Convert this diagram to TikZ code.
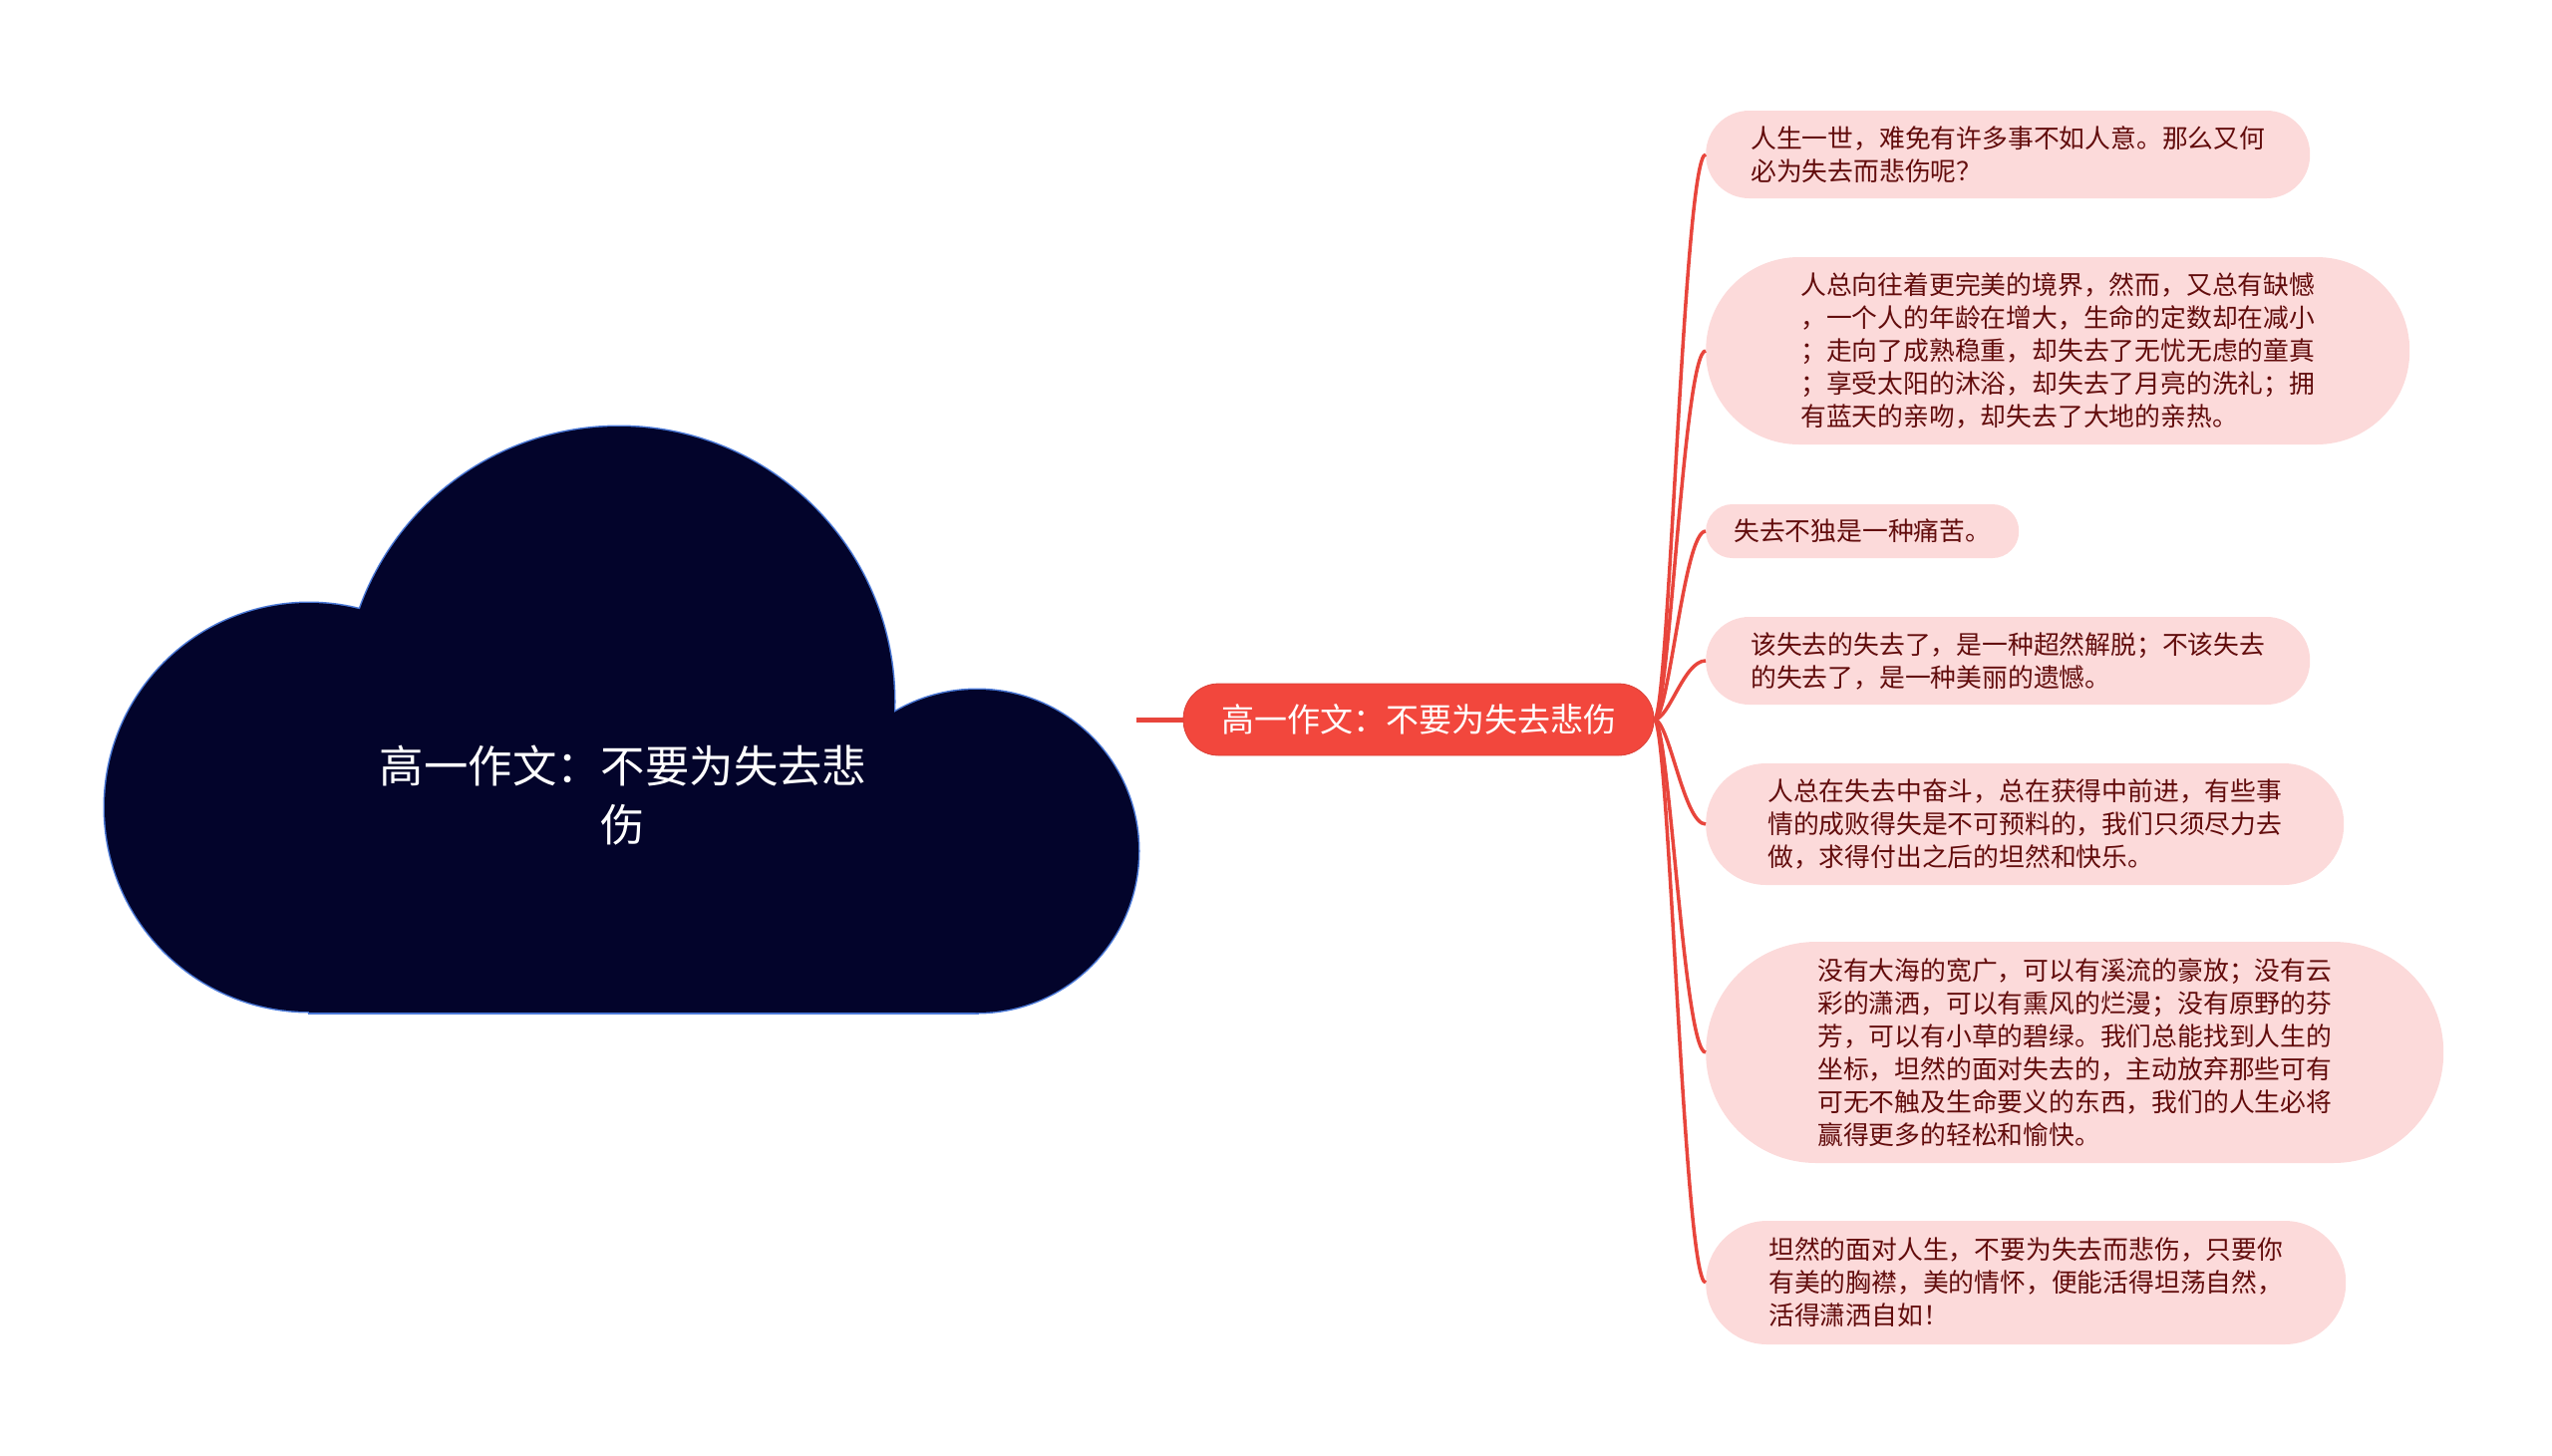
\documentclass[tikz,border=0pt]{standalone}
\usepackage{fontspec}
\setmainfont{Noto Sans CJK SC}
\definecolor{cloudfill}{HTML}{03042B}
\definecolor{cloudedge}{HTML}{4A78D6}
\definecolor{topicred}{HTML}{F2473D}
\definecolor{linered}{HTML}{E8453C}
\definecolor{leafpink}{HTML}{FCDADA}
\definecolor{leaftext}{HTML}{620C0C}

\begin{document}
\begin{tikzpicture}[x=1pt,y=-1pt,
  leaf/.style={rectangle,fill=leafpink,text=leaftext,inner xsep=#1+1pt,inner ysep=4pt,
    minimum height=2*#1,rounded corners=#1-0.5pt,align=left,anchor=west,
    font=\fontsize{25.8}{33}\selectfont},
  topic/.style={rectangle,fill=topicred,draw=topicred!90!black,line width=0.8pt,
    text=white,inner xsep=38pt,minimum height=72pt,rounded corners=35.5pt,
    font=\fontsize{33}{40}\selectfont},
  branch/.style={draw=linered,line width=3.5pt},
  trunk/.style={draw=linered,line width=5pt}]
  \useasboundingbox (0,0) rectangle (2560,1460);
  % cloud behind the root title (outline first, then fill)
  \foreach \cx/\cy/\r in {310/810/205,621/704/276,980/854/162}
    \draw[cloudedge,line width=3pt] (\cx,\cy) circle (\r);
  \draw[cloudedge,line width=3pt] (310,810) rectangle (980,1016);
  \foreach \cx/\cy/\r in {310/810/205,621/704/276,980/854/162}
    \fill[cloudfill] (\cx,\cy) circle (\r);
  \fill[cloudfill] (310,810) rectangle (980,1016);
  \node[text=white,align=center,font=\fontsize{44.4}{59}\selectfont] (root) at (625,798)
    {高一作文：不要为失去悲\\伤};
  \coordinate (cloud) at (1140,722);
  % main topic
  \node[topic] (topic) at (1423,722) {高一作文：不要为失去悲伤};
  \draw[trunk] (cloud) -- (topic.west);
  % leaves
  \node[leaf=44pt] (n1) at (1711,155)
    {人生一世，难免有许多事不如人意。那么又何\\必为失去而悲伤呢？};
  \node[leaf=94pt] (n2) at (1711,352)
    {人总向往着更完美的境界，然而，又总有缺憾\\，一个人的年龄在增大，生命的定数却在减小\\；走向了成熟稳重，却失去了无忧无虑的童真\\；享受太阳的沐浴，却失去了月亮的洗礼；拥\\有蓝天的亲吻，却失去了大地的亲热。};
  \node[leaf=27pt] (n3) at (1711,533)
    {失去不独是一种痛苦。};
  \node[leaf=44pt] (n4) at (1711,663)
    {该失去的失去了，是一种超然解脱；不该失去\\的失去了，是一种美丽的遗憾。};
  \node[leaf=61pt] (n5) at (1711,827)
    {人总在失去中奋斗，总在获得中前进，有些事\\情的成败得失是不可预料的，我们只须尽力去\\做，求得付出之后的坦然和快乐。};
  \node[leaf=111pt] (n6) at (1711,1056)
    {没有大海的宽广，可以有溪流的豪放；没有云\\彩的潇洒，可以有熏风的烂漫；没有原野的芬\\芳，可以有小草的碧绿。我们总能找到人生的\\坐标，坦然的面对失去的，主动放弃那些可有\\可无不触及生命要义的东西，我们的人生必将\\赢得更多的轻松和愉快。};
  \node[leaf=62pt] (n7) at (1711,1287)
    {坦然的面对人生，不要为失去而悲伤，只要你\\有美的胸襟，美的情怀，便能活得坦荡自然，\\活得潇洒自如！};
  % branches
  \foreach \n in {n1,n2,n3,n4,n5,n6,n7}
    \draw[branch] (topic.east) .. controls +(15,0) and +(-22,0) .. (\n.west);
\end{tikzpicture}
\end{document}
